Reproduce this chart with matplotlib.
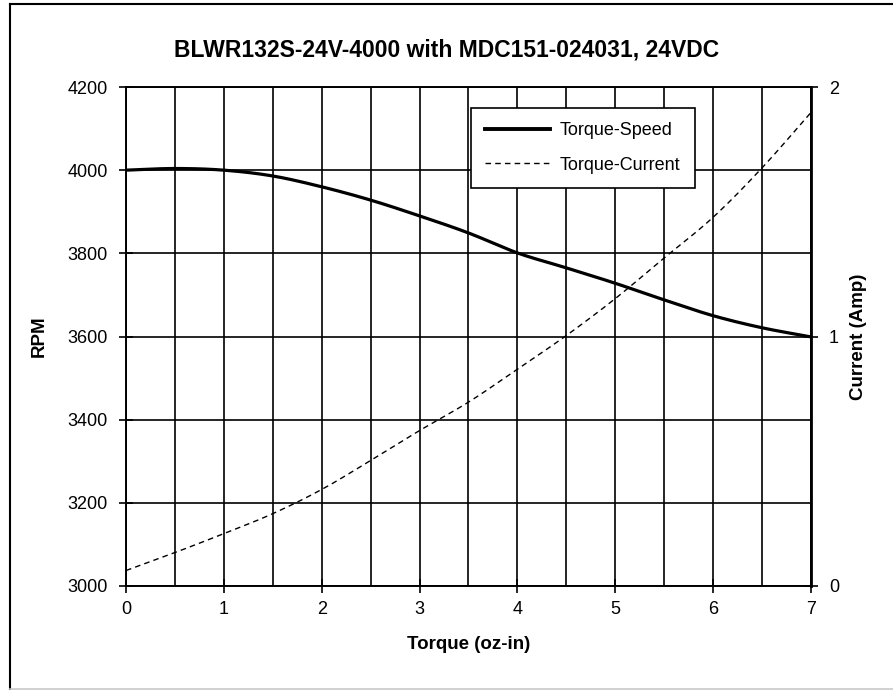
import numpy as np
import matplotlib
matplotlib.use('Agg')
import matplotlib.pyplot as plt
from matplotlib.lines import Line2D

plt.rcParams['font.family'] = ['Liberation Sans', 'DejaVu Sans']

# data
torque = [0, 0.5, 1, 1.5, 2, 2.5, 3, 3.5, 4, 4.5, 5, 5.5, 6, 6.5, 7]
rpm = [4000, 4004, 4000, 3986, 3960, 3928, 3890, 3849, 3801, 3765, 3728, 3688, 3650, 3621, 3599]
current = [0.062, 0.134, 0.21, 0.29, 0.387, 0.503, 0.623, 0.737, 0.869, 1.004,
           1.152, 1.315, 1.478, 1.676, 1.898]

x_ticks = [0, 1, 2, 3, 4, 5, 6, 7]
rpm_ticks = [3000, 3200, 3400, 3600, 3800, 4000, 4200]
amp_ticks = [0, 1, 2]

fig = plt.figure(figsize=(8.93, 6.90), dpi=100)
ax = fig.add_axes([126 / 893, 1 - 586 / 690, 685 / 893, 499 / 690])
ax2 = ax.twinx()

# smooth curves through the read points (cubic Hermite)
xs = np.linspace(0, 7, 200)
def smooth(x, y):
    x = np.asarray(x, float); y = np.asarray(y, float)
    out = np.empty_like(xs)
    m = np.gradient(y, x)
    for i, xv in enumerate(xs):
        k = min(np.searchsorted(x, xv, side='right') - 1, len(x) - 2)
        h = x[k + 1] - x[k]
        t = (xv - x[k]) / h
        h00 = 2*t**3 - 3*t**2 + 1
        h10 = t**3 - 2*t**2 + t
        h01 = -2*t**3 + 3*t**2
        h11 = t**3 - t**2
        out[i] = h00*y[k] + h10*h*m[k] + h01*y[k+1] + h11*h*m[k+1]
    return out

ax.plot(xs, smooth(torque, rpm), color='black', linewidth=2.3, zorder=3)
ax2.plot(xs, smooth(torque, current), color='black', linewidth=1.0,
         linestyle=(0, (4, 3)), zorder=3)

ax.set_xlim(0, 7)
ax.set_ylim(3000, 4200)
ax2.set_ylim(0, 2)

ax.set_xticks(x_ticks)
ax.set_xticks(np.arange(0, 7.01, 0.5), minor=True)
ax.set_yticks(rpm_ticks)
ax2.set_yticks(amp_ticks)

ax.grid(True, which='both', axis='x', color='black', linewidth=1.2)
ax.grid(True, which='major', axis='y', color='black', linewidth=1.2)
ax.set_axisbelow(True)

ax.tick_params(axis='x', which='major', direction='inout', length=10, width=1.2,
               labelsize=13, pad=6)
ax.tick_params(axis='x', which='minor', length=0)
ax.tick_params(axis='y', direction='inout', length=10, width=1.2, labelsize=13, pad=8)
ax2.tick_params(axis='y', direction='inout', length=10, width=1.2, labelsize=13, pad=8)

for a in (ax, ax2):
    for s in a.spines.values():
        s.set_linewidth(1.2)
ax2.spines['right'].set_linewidth(2.0)

ax.set_xlabel('Torque (oz-in)', fontsize=13.5, fontweight='bold', labelpad=13)
ax.set_ylabel('RPM', fontsize=13.5, fontweight='bold', labelpad=14)
ax2.set_ylabel('Current (Amp)', fontsize=13.5, fontweight='bold', labelpad=8)
fig.text(0.5, 1 - 50 / 690, 'BLWR132S-24V-4000 with MDC151-024031, 24VDC',
         ha='center', va='center', fontsize=16.5, fontweight='bold')

handles = [Line2D([], [], color='black', linewidth=2.8),
           Line2D([], [], color='black', linewidth=1.0, linestyle=(0, (4, 3)))]
leg = ax2.legend(handles, ['Torque-Speed', 'Torque-Current'], loc='upper left',
                 bbox_to_anchor=((471 - 126) / 685, 1 - (108 - 87) / 499),
                 fontsize=13, frameon=True, fancybox=False, framealpha=1,
                 edgecolor='black', handlelength=3.6, labelspacing=0.95,
                 borderpad=0.8, handletextpad=0.5, borderaxespad=0)
leg.get_frame().set_linewidth(1.2)
leg.set_zorder(10)

# outer frame
fig.add_artist(Line2D([10 / 893, 10 / 893], [1 - 4 / 690, 0], color='black', lw=1.5,
                      transform=fig.transFigure))
fig.add_artist(Line2D([10 / 893, 1], [1 - 4 / 690, 1 - 4 / 690], color='black', lw=1.5,
                      transform=fig.transFigure))
fig.add_artist(Line2D([10 / 893, 1], [1.2 / 690, 1.2 / 690], color='#c8c8c8', lw=1.2,
                      transform=fig.transFigure))

fig.savefig('out.png', dpi=100)
